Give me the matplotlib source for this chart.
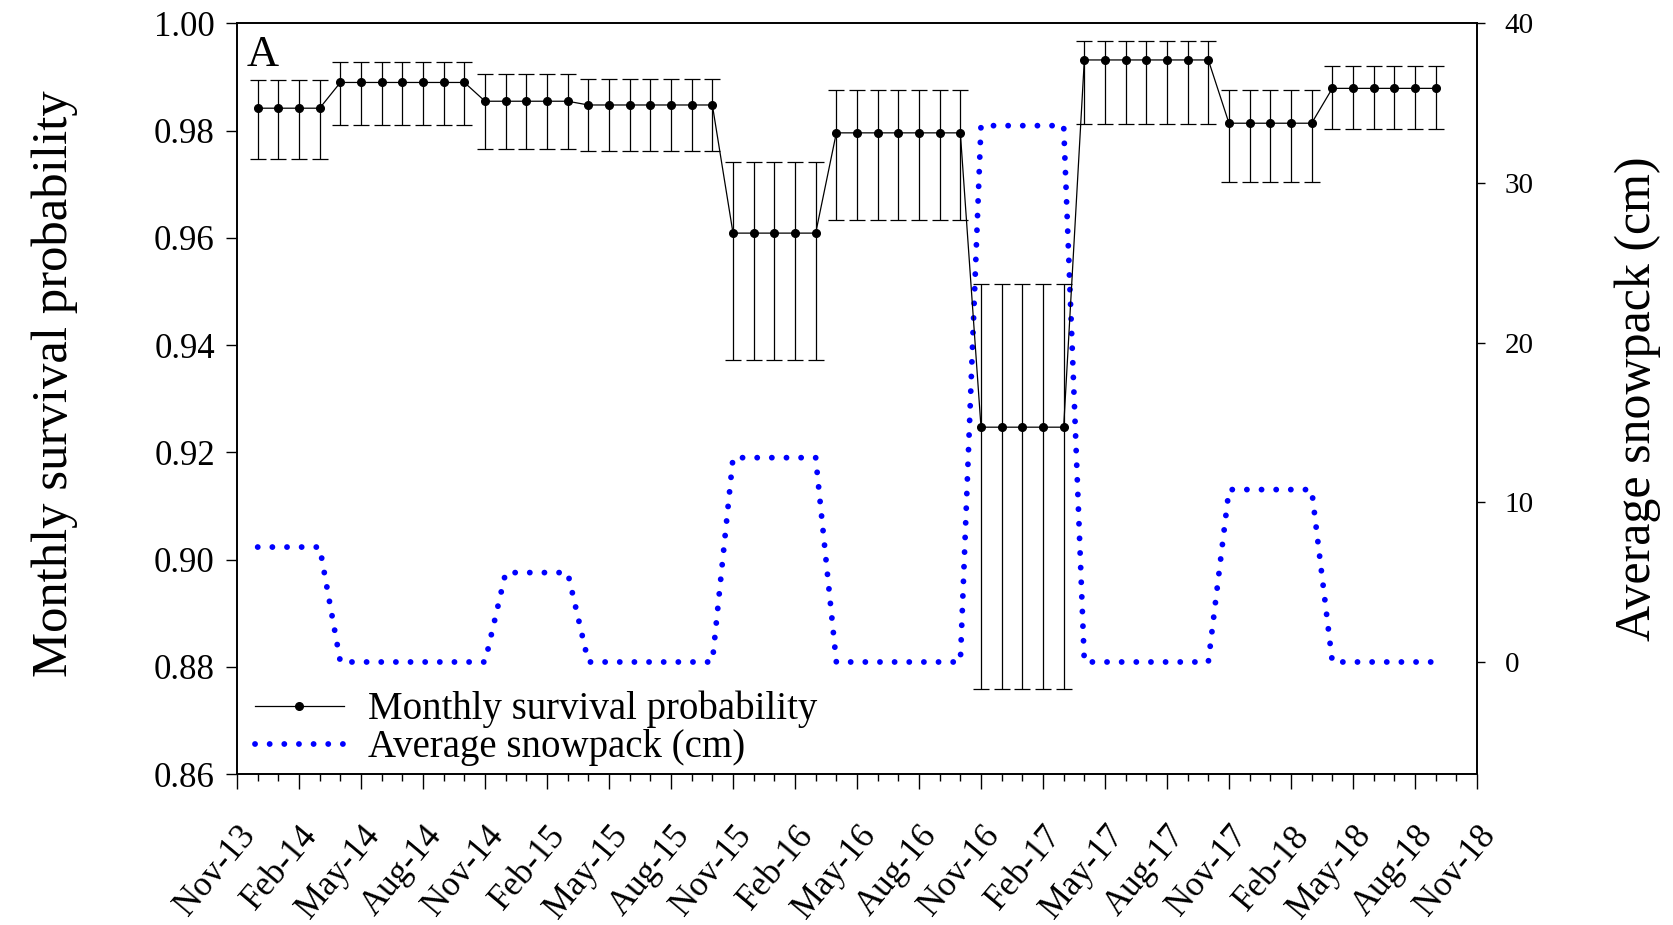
import numpy as np
import matplotlib
matplotlib.use('Agg')
import matplotlib.pyplot as plt
from matplotlib.lines import Line2D
from matplotlib.ticker import MultipleLocator, FixedLocator

plt.rcParams['font.family'] = 'Liberation Serif'

# months since Nov-13
months = np.arange(1, 59)

# survival estimate and CI, one value per block of months
block_len = [4, 7, 5, 7, 5, 7, 5, 7, 5, 6]
block_surv = [0.9842, 0.9890, 0.9855, 0.9848, 0.9609, 0.9796, 0.9247, 0.9932, 0.9814, 0.9879]
block_upper = [0.9894, 0.9929, 0.9905, 0.9897, 0.9741, 0.9876, 0.9514, 0.9968, 0.9876, 0.9921]
block_lower = [0.9748, 0.9810, 0.9765, 0.9763, 0.9373, 0.9633, 0.8759, 0.9812, 0.9704, 0.9804]

# average snowpack (cm) per month
snow = [7.2] * 4 + [0] * 8 + [5.6] * 4 + [0] * 7 + [12.8] * 5 + [0] * 7 + \
       [33.6] * 5 + [0] * 7 + [10.8] * 5 + [0] * 6

tick_labels = ['Nov-13', 'Feb-14', 'May-14', 'Aug-14', 'Nov-14', 'Feb-15', 'May-15',
               'Aug-15', 'Nov-15', 'Feb-16', 'May-16', 'Aug-16', 'Nov-16', 'Feb-17',
               'May-17', 'Aug-17', 'Nov-17', 'Feb-18', 'May-18', 'Aug-18', 'Nov-18']

surv = np.repeat(block_surv, block_len)
upper = np.repeat(block_upper, block_len)
lower = np.repeat(block_lower, block_len)

fig = plt.figure(figsize=(16.74, 9.25), dpi=100)
ax = fig.add_axes([0.1416, 0.1632, 0.8823 - 0.1416, 0.9746 - 0.1632])
ax2 = ax.twinx()

ax.errorbar(months, surv, yerr=[surv - lower, upper - surv], fmt='-o', color='black',
            ms=5.5, lw=0.9, elinewidth=0.9, capsize=6, capthick=0.9, zorder=3)
snow_line, = ax2.plot(months, snow, color='#0000ff', lw=4.2, linestyle=(0, (0.01, 2.5)),
                      dash_capstyle='round', label='Average snowpack (cm)')

ax.set_xlim(0, 60)
ax.set_ylim(0.86, 1.00)
ax2.set_ylim(-7.02, 40)
ax.set_zorder(ax2.get_zorder() + 1)
ax.patch.set_visible(False)

ax.xaxis.set_major_locator(FixedLocator(np.arange(0, 61, 3)))
ax.xaxis.set_minor_locator(MultipleLocator(1))
ax.set_xticklabels(tick_labels, rotation=50, ha='right', rotation_mode='anchor', fontsize=25)
ax.yaxis.set_major_locator(MultipleLocator(0.02))
ax.set_yticklabels([f'{v:.2f}' for v in ax.get_yticks()], fontsize=25)
ax2.set_yticks([0, 10, 20, 30, 40])
ax2.tick_params(axis='y', labelsize=21, length=6, width=1, pad=14)
ax.tick_params(axis='y', length=8, width=1, pad=8)
ax.tick_params(axis='x', which='major', length=11, width=1, pad=22)
ax.tick_params(axis='x', which='minor', length=5, width=1)
ax.set_ylabel('Monthly survival probability', fontsize=36.5)
ax.yaxis.set_label_coords(-0.128, 0.52)
ax2.set_ylabel('Average snowpack (cm)', fontsize=36, labelpad=58)
for sp in list(ax.spines.values()) + list(ax2.spines.values()):
    sp.set_linewidth(1.2)

ax.text(0.008, 0.985, 'A', transform=ax.transAxes, fontsize=32, va='top', ha='left')

surv_handle = Line2D([], [], color='black', lw=0.9, marker='o', ms=5.5)
ax.legend([surv_handle, snow_line], ['Monthly survival probability', snow_line.get_label()],
          loc='lower left', bbox_to_anchor=(0.008, 0.0), frameon=False, fontsize=28,
          handlelength=2.3, borderpad=0.2, borderaxespad=0, labelspacing=0.02,
          handletextpad=0.6)

fig.savefig('out.png', dpi=100)
